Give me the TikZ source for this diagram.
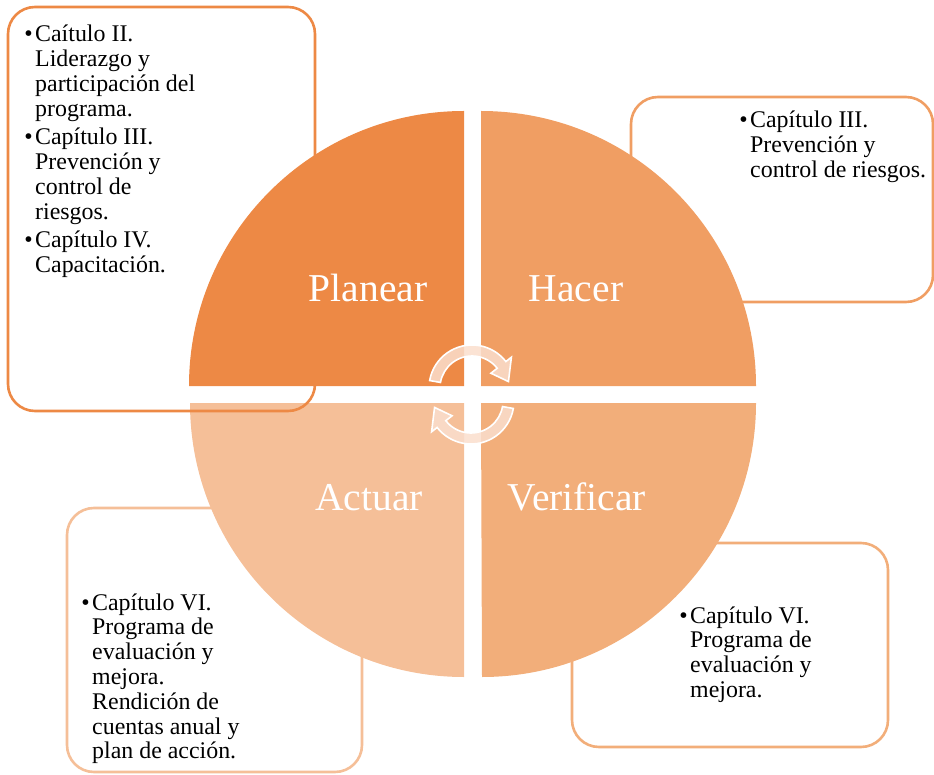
\documentclass[tikz,border=0pt]{standalone}
\usepackage{fontspec}
\setmainfont{Liberation Serif}
\usetikzlibrary{calc}
\definecolor{cPlan}{RGB}{237,137,69}
\definecolor{cHac}{RGB}{240,158,99}
\definecolor{cVer}{RGB}{242,174,122}
\definecolor{cAct}{RGB}{245,191,152}
\definecolor{cArr}{RGB}{250,222,205}
\newcommand\bulletitem[1]{\llap{•\hspace{2.5pt}}\begin{tabular}[t]{@{}l@{}}#1\end{tabular}}
\begin{document}
\begin{tikzpicture}[x=1pt,y={(0pt,-1pt)},
  box/.style={draw=#1, line width=2.6pt, rounded corners=27pt},
  lbl/.style={text=white, font=\fontsize{39.5}{44}\selectfont, inner sep=0pt, anchor=base},
  itemtext/.style={font=\fontsize{23.9}{24.8}\selectfont, inner sep=0pt, anchor=base west, text=black},
  cyc/.style={fill=cArr, fill opacity=0.85, draw=white, line width=1.6pt, line join=miter}]
\useasboundingbox (0,0) rectangle (934,775);
% quadrants
\fill[cPlan] (464,386) -- (189,386) arc[start angle=180,end angle=270,radius=275] -- cycle;
\fill[cHac] (481,386) -- (481,111) arc[start angle=270,end angle=360,radius=275] -- cycle;
\fill[cVer] (481,403) -- (756,403) arc[start angle=0,end angle=90,radius=274] -- cycle;
\fill[cAct] (464,403) -- (464,677) arc[start angle=90,end angle=180,radius=274] -- cycle;
% boxes
\draw[box=cPlan] (8,7) rectangle (315,411);
\draw[box=cHac] (631,97) rectangle (933,302);
\draw[box=cAct] (67,508) rectangle (362,772);
\draw[box=cVer] (572,543) rectangle (888,747);
% labels
\node[lbl] (planear) at (368,302) {Planear};
\node[lbl] (hacer) at (576,302) {Hacer};
\node[lbl] (actuar) at (369,510) {Actuar};
\node[lbl] (verificar) at (577,510) {Verificar};
% cycle arrows
\coordinate (c1) at (472,388);
\coordinate (c2) at (471,401);
\path[cyc] ($(c1)+(190:43)$) arc[start angle=190,end angle=322,radius=43]
  -- ($(c1)+(322:50)$) -- ($(c1)+(350:37)$) -- ($(c1)+(322:24)$) -- ($(c1)+(322:32)$)
  arc[start angle=322,end angle=190,radius=32] -- cycle;
\path[cyc] ($(c2)+(10:43)$) arc[start angle=10,end angle=142,radius=43]
  -- ($(c2)+(142:50)$) -- ($(c2)+(170:37)$) -- ($(c2)+(142:24)$) -- ($(c2)+(142:32)$)
  arc[start angle=142,end angle=10,radius=32] -- cycle;
% texts
\node[itemtext] (t1a) at (35,42) {\bulletitem{Caítulo II.\\Liderazgo y\\participación del\\programa.}};
\node[itemtext] (t1b) at (35,145) {\bulletitem{Capítulo III.\\Prevención y\\control de\\riesgos.}};
\node[itemtext] (t1c) at (35,248) {\bulletitem{Capítulo IV.\\Capacitación.}};
\node[itemtext] (t2) at (750,128) {\bulletitem{Capítulo III.\\Prevención y\\control de riesgos.}};
\node[itemtext] (t3) at (92,610) {\bulletitem{Capítulo VI.\\Programa de\\evaluación y\\mejora.\\Rendición de\\cuentas anual y\\plan de acción.}};
\node[itemtext] (t4) at (690,623) {\bulletitem{Capítulo VI.\\Programa de\\evaluación y\\mejora.}};
\end{tikzpicture}
\end{document}
